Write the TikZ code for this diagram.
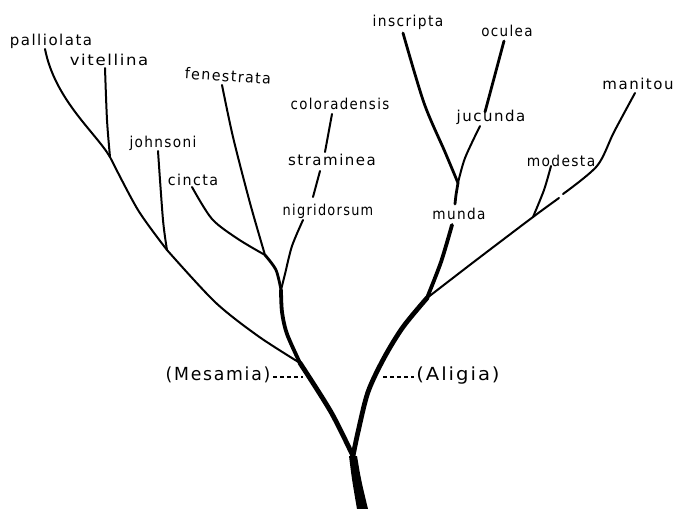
\documentclass[tikz,border=0pt]{standalone}
\usepackage{fontspec}
\setmainfont{DejaVu Sans}
\newfontfamily\hand[LetterSpace=10]{DejaVu Sans}
\begin{document}
\begin{tikzpicture}[x=1pt,y=-1pt,
  lab/.style={inner sep=0pt,font=\hand\fontsize{15}{15}\selectfont},
  biglab/.style={inner sep=0pt,font=\hand\fontsize{18}{18}\selectfont},
  twig/.style={line width=2pt,line cap=round,line join=round},
  limb/.style={line width=2.8pt,line cap=round,line join=round},
  bough/.style={line width=3.8pt,line cap=round,line join=round},
  stem/.style={line width=4.8pt,line cap=round,line join=round},
  guide/.style={line width=1.2pt,dash pattern=on 4pt off 3pt}]
\useasboundingbox (0,0) rectangle (673,509);

% species names
\node[lab] (palliolata) at (51,41) {palliolata};
\node[lab,xscale=1.1] (vitellina) at (109,60) {vitellina};
\node[lab,rotate=-4,xscale=.95] (fenestrata) at (228,76) {fenestrata};
\node[lab,xscale=.89] (coloradensis) at (340,104) {coloradensis};
\node[lab,xscale=.91] (johnsoni) at (163,143) {johnsoni};
\node[lab] (straminea) at (332,160) {straminea};
\node[lab,xscale=.95] (cincta) at (193,180) {cincta};
\node[lab,xscale=.86] (nigridorsum) at (328,211) {nigridorsum};
\node[lab,xscale=.92] (inscripta) at (408,22) {inscripta};
\node[lab,xscale=.9] (oculea) at (507,31) {oculea};
\node[lab] (manitou) at (638,84) {manitou};
\node[lab] (jucunda) at (491,117) {jucunda};
\node[lab,xscale=.92] (modesta) at (561,161) {modesta};
\node[lab,xscale=.91] (munda) at (459,214) {munda};
\node[biglab,xscale=.96] (mesamia) at (218,375) {(Mesamia)};
\node[biglab,xscale=1.09] (aligia) at (458,376) {(Aligia)};

% branch points
\coordinate (fork) at (353,456);
\coordinate (mesJ) at (300,363);
\coordinate (cJ) at (281,290);
\coordinate (fJ) at (265,255);
\coordinate (jJ) at (167,250);
\coordinate (vJ) at (110,157);
\coordinate (aJ) at (427,298);
\coordinate (iJ) at (458,183);
\coordinate (mJ) at (533,217);

% branch tips
\coordinate (tPal) at (45,49);
\coordinate (tVit) at (105,68);
\coordinate (tJoh) at (158,151);
\coordinate (tCin) at (192,187);
\coordinate (tFen) at (222,85);
\coordinate (tNig) at (303,220);
\coordinate (tIns) at (403,33);
\coordinate (tJuc) at (480,126);
\coordinate (tMod) at (551,166);
\coordinate (tMan) at (635,93);
\coordinate (mundaLo) at (452,225);
\coordinate (mundaHi) at (455,204);

% root
\fill (349,456) .. controls (352,480) .. (357,509) -- (368,509)
  .. controls (361,480) .. (357,456) -- cycle;

% Mesamia stem
\draw[stem] plot[smooth] coordinates {(fork) (331,412) (mesJ)};
\draw[bough] plot[smooth] coordinates {(mesJ) (287,334) (282,312) (cJ)};
\draw[limb] plot[smooth] coordinates {(cJ) (276,270) (fJ)};
\draw[twig] plot[smooth] coordinates {(cJ) (285,274) (292,246) (tNig)};
\draw[twig] plot[smooth] coordinates {(fJ) (238,239) (212,219) (tCin)};
\draw[twig] plot[smooth] coordinates {(fJ) (250,203) (233,137) (tFen)};
\draw[twig] plot[smooth] coordinates {(mesJ) (258,336) (215,302) (jJ)};
\draw[twig] plot[smooth] coordinates {(jJ) (163,220) (tJoh)};
\draw[twig] plot[smooth] coordinates {(jJ) (138,210) (vJ)};
\draw[twig] plot[smooth] coordinates {(vJ) (107,120) (tVit)};
\draw[twig] (vJ) .. controls (96,133) and (55,100) .. (tPal);
\draw[twig] (313,197) -- (320,171);
\draw[twig] (325,152) -- (332,114);

% Aligia stem
\draw[stem] plot[smooth] coordinates {(fork) (358,432) (368,392) (384,358) (403,327) (aJ)};
\draw[bough] plot[smooth] coordinates {(aJ) (441,262) (mundaLo)};
\draw[limb] plot[smooth] coordinates {(mundaHi) (456,195) (iJ)};
\draw[limb] plot[smooth] coordinates {(iJ) (445,152) (424,103) (tIns)};
\draw[twig] plot[smooth] coordinates {(iJ) (465,158) (tJuc)};
\draw[limb] (485,112) -- (504,41);
\draw[twig] plot[smooth] coordinates {(aJ) (475,261) (mJ) (559,198)};
\draw[twig] plot[smooth] coordinates {(563,194) (597,166) (614,132) (tMan)};
\draw[twig] plot[smooth] coordinates {(mJ) (544,190) (tMod)};

% group leaders
\draw[guide] (273,377) -- (303,377);
\draw[guide] (383,377) -- (414,377);
\end{tikzpicture}
\end{document}
